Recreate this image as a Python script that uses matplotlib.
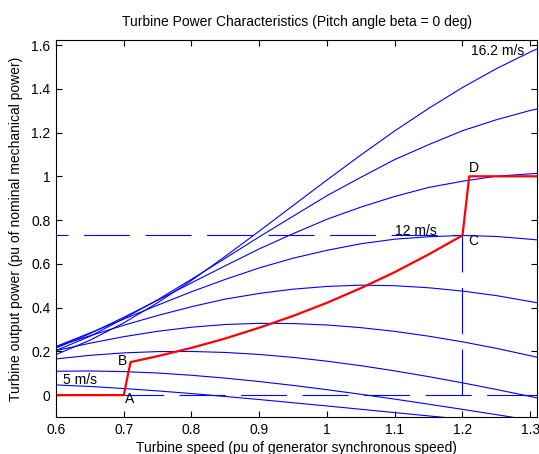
import matplotlib
matplotlib.use("Agg")
import matplotlib.pyplot as plt

plt.rcParams["font.family"] = ["Liberation Sans", "DejaVu Sans"]
plt.rcParams["font.size"] = 10
plt.rcParams["lines.scale_dashes"] = False

# turbine speed grid (pu)
speed = [0.6, 0.65, 0.7, 0.75, 0.8, 0.85, 0.9, 0.95, 1.0, 1.05, 1.1, 1.15, 1.2, 1.25, 1.3, 1.31]

# output power (pu) for each wind speed
p_5_0 = [0.0465, 0.0395, 0.0302, 0.0193, 0.0071, -0.0062, -0.0202, -0.0348, -0.0496, -0.0647,
         -0.0799, -0.0950, -0.1101, -0.1251, -0.1399, -0.1428]
p_6_4 = [0.1092, 0.1103, 0.1075, 0.1010, 0.0907, 0.0776, 0.0621, 0.0444, 0.0248, 0.0038,
         -0.0183, -0.0415, -0.0651, -0.0893, -0.1139, -0.1188]
p_7_8 = [0.1653, 0.1818, 0.1930, 0.1989, 0.1995, 0.1950, 0.1859, 0.1724, 0.1551, 0.1345,
         0.1108, 0.0845, 0.0561, 0.0258, -0.0061, -0.0128]
p_9_2 = [0.2033, 0.2373, 0.2671, 0.2917, 0.3104, 0.3228, 0.3280, 0.3271, 0.3205, 0.3084,
         0.2913, 0.2694, 0.2436, 0.2138, 0.1801, 0.1732]
p_10_6 = [0.2211, 0.2712, 0.3193, 0.3639, 0.4041, 0.4390, 0.4648, 0.4842, 0.4967, 0.5027,
          0.5000, 0.4907, 0.4756, 0.4548, 0.4278, 0.4222]
p_12_0 = [0.2222, 0.2841, 0.3474, 0.4111, 0.4725, 0.5291, 0.5813, 0.6258, 0.6619, 0.6918,
          0.7127, 0.7238, 0.7298, 0.7251, 0.7125, 0.7095]
p_13_4 = [0.2147, 0.2810, 0.3558, 0.4333, 0.5131, 0.5915, 0.6683, 0.7380, 0.8039, 0.8593,
          0.9080, 0.9491, 0.9775, 1.0006, 1.0112, 1.0133]
p_14_8 = [0.2040, 0.2685, 0.3498, 0.4357, 0.5295, 0.6257, 0.7235, 0.8177, 0.9116, 0.9955,
          1.0767, 1.1447, 1.2083, 1.2585, 1.3010, 1.3073]
p_16_2 = [0.1852, 0.2507, 0.3300, 0.4221, 0.5242, 0.6346, 0.7495, 0.8666, 0.9833, 1.0975,
          1.2075, 1.3104, 1.4058, 1.4919, 1.5682, 1.5820]
wind_curves = [p_5_0, p_6_4, p_7_8, p_9_2, p_10_6, p_12_0, p_13_4, p_14_8, p_16_2]

# tracking characteristic A-B-C-D
track_speed = [0.6, 0.7, 0.71, 0.75, 0.8, 0.85, 0.9, 0.95, 1.0, 1.05, 1.1, 1.15, 1.2, 1.21, 1.31]
track_power = [0.0, 0.0, 0.151, 0.178, 0.216, 0.259, 0.308, 0.362, 0.422, 0.489, 0.562, 0.643,
               0.73, 1.0, 1.0]

# reference lines
p_nom_base = 0.73
speed_base = 1.2

x_ticks = [0.6, 0.7, 0.8, 0.9, 1.0, 1.1, 1.2, 1.3]
x_tick_labels = ["0.6", "0.7", "0.8", "0.9", "1", "1.1", "1.2", "1.3"]
y_ticks = [0, 0.2, 0.4, 0.6, 0.8, 1.0, 1.2, 1.4, 1.6]
y_tick_labels = ["0", "0.2", "0.4", "0.6", "0.8", "1", "1.2", "1.4", "1.6"]

fig = plt.figure(figsize=(5.39, 4.54), dpi=100)
ax = fig.add_axes([56 / 539, 37 / 454, 481 / 539, 377 / 454])

dash = (33.1, 11.2)
for p in wind_curves:
    ax.plot(speed, p, color="#0000ff", lw=0.8)
ax.plot([0.6, 1.31], [0, 0], color="#0000ff", lw=0.8, linestyle=(0, dash))
ax.plot([0.6, speed_base], [p_nom_base, p_nom_base], color="#0000ff", lw=0.8, linestyle=(24.5, dash))
ax.plot([speed_base, speed_base], [0, p_nom_base], color="#0000ff", lw=0.8, linestyle=(0, dash))
ax.plot(track_speed, track_power, color="#ff0000", lw=1.6)

ax.text(1.212, 1.575, "16.2 m/s", va="center", ha="left")
ax.text(1.101, 0.752, "12 m/s", va="center", ha="left")
ax.text(0.61, 0.068, "5 m/s", va="center", ha="left")
ax.text(0.702, -0.02, "A", va="center", ha="left")
ax.text(0.692, 0.158, "B", va="center", ha="left")
ax.text(1.209, 0.703, "C", va="center", ha="left")
ax.text(1.209, 1.038, "D", va="center", ha="left")

ax.set_xlim(0.6, 1.31)
ax.set_ylim(-0.1, 1.623)
ax.set_xticks(x_ticks)
ax.set_xticklabels(x_tick_labels)
ax.set_yticks(y_ticks)
ax.set_yticklabels(y_tick_labels)
ax.tick_params(direction="in", top=True, right=True, length=4, width=0.8, pad=4)
for s in ax.spines.values():
    s.set_linewidth(0.8)

ax.set_title("Turbine Power Characteristics (Pitch angle beta = 0 deg)", fontsize=10, pad=10)
ax.set_xlabel("Turbine speed (pu of generator synchronous speed)", labelpad=3)
ax.set_ylabel("Turbine output power (pu of nominal mechanical power)", labelpad=6)

fig.savefig("out.png", dpi=100)
